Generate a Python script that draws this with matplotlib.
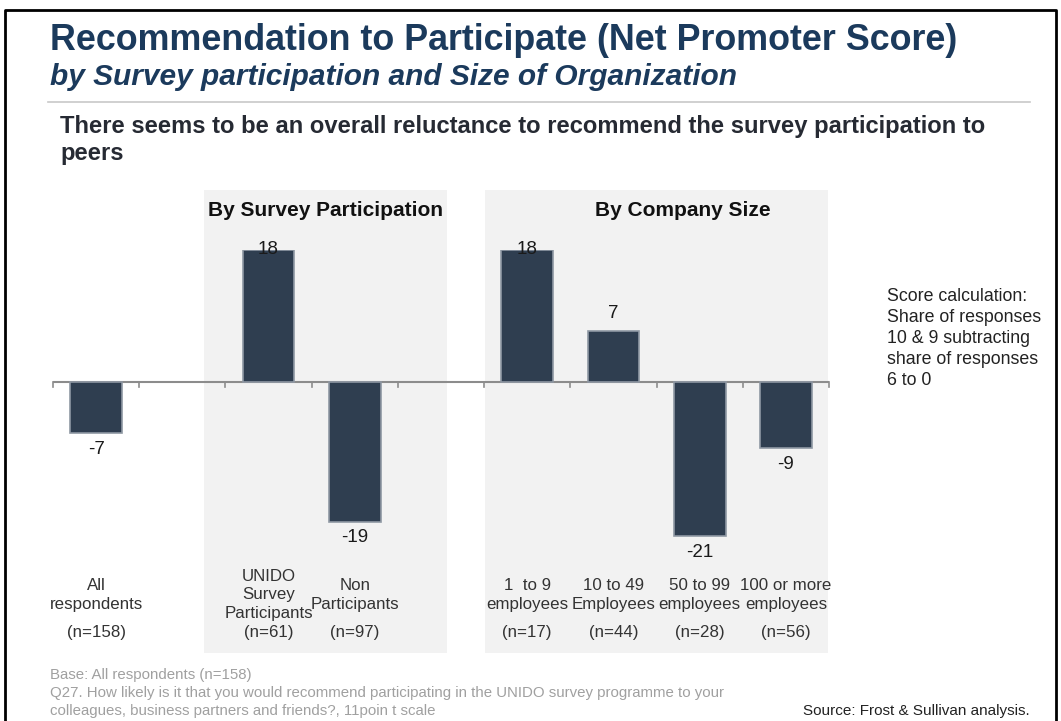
import numpy as np
import matplotlib as mpl
mpl.use('Agg')
import matplotlib.pyplot as plt
import matplotlib.patches as patches
import matplotlib.transforms as transforms

plt.rcParams['font.family'] = ['Liberation Sans', 'DejaVu Sans']

W, H = 1061, 721

# data
overall_labels = ['All\nrespondents']
overall_n = [158]
overall_scores = [-7]

survey_labels = ['UNIDO\nSurvey\nParticipants', 'Non\nParticipants']
survey_n = [61, 97]
survey_scores = [18, -19]

size_labels = ['1  to 9\nemployees', '10 to 49\nEmployees', '50 to 99\nemployees', '100 or more\nemployees']
size_n = [17, 44, 28, 56]
size_scores = [18, 7, -21, -9]

groups = [(overall_labels, overall_n, overall_scores),
          (survey_labels, survey_n, survey_scores),
          (size_labels, size_n, size_scores)]

# one empty slot between groups
labels, ns, scores, xpos = [], [], [], []
slot = 0
for g_labels, g_n, g_scores in groups:
    for l, n, s in zip(g_labels, g_n, g_scores):
        labels.append(l); ns.append(n); scores.append(s); xpos.append(slot)
        slot += 1
    slot += 1
nslots = slot - 1


def fx(px):
    return px / W


def fy(py):
    return 1 - py / H


fig = plt.figure(figsize=(W / 100, H / 100), dpi=100)

# grey panels behind the two groups
for x0, x1 in [(204, 447), (485, 828)]:
    fig.patches.append(patches.Rectangle((fx(x0), fy(653)), fx(x1) - fx(x0), (653 - 190) / H,
                                         transform=fig.transFigure, facecolor='#f2f2f2',
                                         edgecolor='none', zorder=-5))

# axes placed so zero sits at y=382 px, 18 at ~248 px
k = 7.35
ymax, ymin = 18, -23
top_px = 382 - ymax * k
bot_px = 382 - ymin * k
ax = fig.add_axes([fx(53), fy(bot_px), fx(829) - fx(53), (bot_px - top_px) / H])
ax.set_zorder(2)
ax.set_xlim(-0.5, nslots - 0.5)
ax.set_ylim(ymin, ymax)
ax.patch.set_alpha(0)
for sp in ax.spines.values():
    sp.set_visible(False)
ax.set_xticks([])
ax.set_yticks([])

blend = transforms.blended_transform_factory(ax.transData, fig.transFigure)

# zero line with ticks at slot boundaries
ax.axhline(0, color='#8c8c8c', lw=1.5, zorder=1)
for b in np.arange(-0.5, nslots, 1.0):
    ax.plot([b, b], [0, -0.7], color='#8c8c8c', lw=1.2, zorder=1, clip_on=False)

ax.bar(xpos, scores, width=0.6, color='#2f3e50', edgecolor='#8f98a3', lw=1.2, zorder=2)

for x, s in zip(xpos, scores):
    if s >= 0:
        yv = min(s + 2.3, ymax)
    else:
        yv = s - 2.2
    ax.text(x, yv, str(s), ha='center', va='center', fontsize=13.5, color='#1a1a1a',
            zorder=3, clip_on=False)

for x, l, n in zip(xpos, labels, ns):
    ax.text(x, fy(595), l, transform=blend, ha='center', va='center', fontsize=12.2,
            color='#333333', linespacing=1.27)
    ax.text(x, fy(633), '(n=%d)' % n, transform=blend, ha='center', va='center',
            fontsize=12.2, color='#333333')

fig.text(fx(326), fy(210), 'By Survey Participation', ha='center', va='center',
         fontsize=15, fontweight='bold', color='#111111', zorder=3)
fig.text(fx(683), fy(210), 'By Company Size', ha='center', va='center',
         fontsize=15, fontweight='bold', color='#111111', zorder=3)

fig.text(fx(887), fy(288), 'Score calculation:\nShare of responses\n10 & 9 subtracting\nshare of responses\n6 to 0',
         ha='left', va='top', fontsize=12.8, color='#222222', linespacing=1.3)

# header
fig.text(fx(50), fy(41), 'Recommendation to Participate (Net Promoter Score)', ha='left',
         va='center', fontsize=25.8, fontweight='bold', color='#1b3a5c')
fig.text(fx(50), fy(77), 'by Survey participation and Size of Organization', ha='left',
         va='center', fontsize=21.5, fontweight='bold', style='italic', color='#1b3a5c')
fig.add_artist(plt.Line2D([fx(48), fx(1030)], [fy(102), fy(102)], color='#c8c8c8', lw=1.2))
fig.text(fx(60), fy(140), 'There seems to be an overall reluctance to recommend the survey participation to\npeers',
         ha='left', va='center', fontsize=17.1, fontweight='bold', color='#262a33', linespacing=1.25)

# footnotes
fig.text(fx(50), fy(675), 'Base: All respondents (n=158)', ha='left', va='center', fontsize=10.8, color='#a0a0a0')
fig.text(fx(50), fy(693), 'Q27. How likely is it that you would recommend participating in the UNIDO survey programme to your',
         ha='left', va='center', fontsize=10.8, color='#a0a0a0')
fig.text(fx(50), fy(711), 'colleagues, business partners and friends?, 11poin t scale',
         ha='left', va='center', fontsize=10.8, color='#a0a0a0')
fig.text(fx(1030), fy(711), 'Source: Frost & Sullivan analysis.', ha='right', va='center',
         fontsize=11, color='#222222')

# slide frame
fig.add_artist(plt.Line2D([fx(5), fx(5), fx(1056), fx(1056)], [fy(730), fy(10), fy(10), fy(730)],
                          color='black', lw=2))

plt.savefig('out.png', dpi=100)
